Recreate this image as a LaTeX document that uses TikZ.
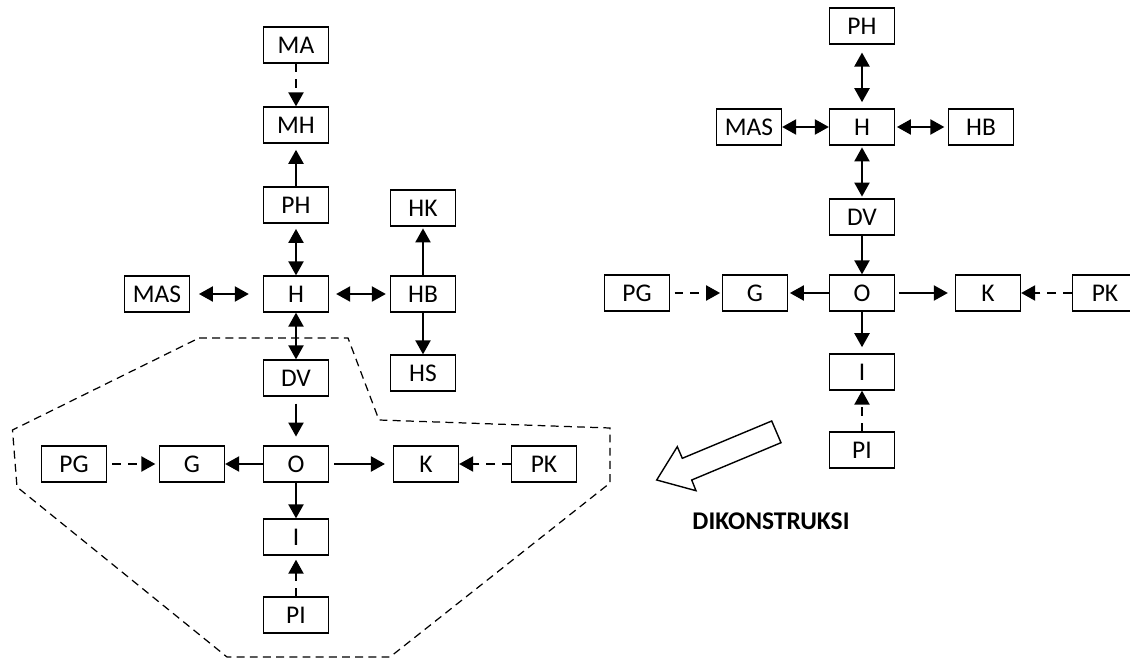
\documentclass[tikz,border=0pt]{standalone}
\usepackage{fontspec}
\setmainfont{Carlito}
\usetikzlibrary{arrows.meta,positioning}

\tikzset{
  box/.style={draw, line width=0.7pt, minimum width=1.3cm, minimum height=0.72cm,
    inner sep=0pt, font=\fontsize{14.5}{17}\selectfont},
  arr/.style={line width=1.4pt, -{Triangle[length=8pt,width=8.5pt]}},
  biarr/.style={line width=1.4pt, {Triangle[length=8pt,width=8.5pt]}-{Triangle[length=8pt,width=8.5pt]}},
  darr/.style={arr, dash pattern=on 5pt off 4pt},
}

\begin{document}
\begin{tikzpicture}[x=0.02cm, y=-0.02cm]
\useasboundingbox (0,0) rectangle (1130,659);

% Left diagram
\node[box] (lMA) at (296,45) {MA};
\node[box] (lMH) at (296,125) {MH};
\node[box] (lPH) at (296,205) {PH};
\node[box] (lH) at (296,294) {H};
\node[box] (lMAS) at (157,294) {MAS};
\node[box] (lHB) at (423,294) {HB};
\node[box] (lHK) at (423,208) {HK};
\node[box] (lHS) at (423,373) {HS};
\node[box] (lDV) at (296,378) {DV};
\node[box] (lO) at (296,464) {O};
\node[box] (lG) at (192,464) {G};
\node[box] (lPG) at (74,464) {PG};
\node[box] (lK) at (426,464) {K};
\node[box] (lPK) at (544,464) {PK};
\node[box] (lI) at (296,537) {I};
\node[box] (lPI) at (296,615) {PI};

\draw[darr] (lMA) -- (lMH);
\draw[arr, shorten >=3.5pt] (lPH) -- (lMH);
\draw[biarr, shorten <=3pt] (lPH) -- (lH);
\draw[biarr, shorten <=5pt, shorten >=8pt] (lMAS) -- (lH);
\draw[biarr, shorten <=4pt, shorten >=2.3pt] (lH) -- (lHB);
\draw[arr, shorten >=1pt] (lHB) -- (lHK);
\draw[arr] (lHB) -- (lHS);
\draw[biarr] (lH) -- (lDV);
\draw[arr, shorten <=4pt, shorten >=5pt] (lDV) -- (lO);
\draw[arr] (lO) -- (lG);
\draw[arr, shorten <=3pt, shorten >=4.5pt] (lO) -- (lK);
\draw[arr] (lO) -- (lI);
\draw[darr, shorten <=3pt, shorten >=2pt] (lPG) -- (lG);
\draw[darr] (lPK) -- (lK);
\draw[darr, shorten >=2.3pt] (lPI) -- (lI);

% Grouped part
\draw[line width=0.7pt, dash pattern=on 4.5pt off 3pt]
  (199,338) -- (348,338) -- (379,420) -- (610,428) -- (610,483) -- (390,657)
  -- (227,657) -- (17,487) -- (12.5,430) -- cycle;

% Right diagram
\node[box] (rPH) at (862,26) {PH};
\node[box] (rH) at (862,127) {H};
\node[box] (rMAS) at (749,127) {MAS};
\node[box] (rHB) at (981,127) {HB};
\node[box] (rDV) at (862,217) {DV};
\node[box] (rO) at (862,293) {O};
\node[box] (rG) at (755,293) {G};
\node[box] (rPG) at (637,293) {PG};
\node[box] (rK) at (988,293) {K};
\node[box] (rPK) at (1105,293) {PK};
\node[box] (rI) at (862,372) {I};
\node[box] (rPI) at (862,450) {PI};

\draw[biarr, shorten <=4.5pt, shorten >=3.5pt] (rPH) -- (rH);
\draw[biarr] (rMAS) -- (rH);
\draw[biarr, shorten <=1pt, shorten >=2pt] (rH) -- (rHB);
\draw[biarr, shorten <=1pt, shorten >=1pt] (rH) -- (rDV);
\draw[arr] (rDV) -- (rO);
\draw[arr, shorten >=1pt] (rO) -- (rG);
\draw[arr, shorten <=2pt, shorten >=4pt] (rO) -- (rK);
\draw[arr, shorten >=3.5pt] (rO) -- (rI);
\draw[darr, shorten <=2.5pt, shorten >=1pt] (rPG) -- (rG);
\draw[darr] (rPK) -- (rK);
\draw[darr] (rPI) -- (rI);

% Hollow arrow
\draw[line width=0.8pt, line join=miter]
  (771.7,421) -- (781,442.7) -- (691.7,480) -- (696,490.7) -- (656.7,480)
  -- (677.3,446.7) -- (682.3,458.3) -- cycle;
\node[font=\bfseries\fontsize{14.5}{17}\selectfont] (lbl) at (771,521) {DIKONSTRUKSI};
\end{tikzpicture}
\end{document}
